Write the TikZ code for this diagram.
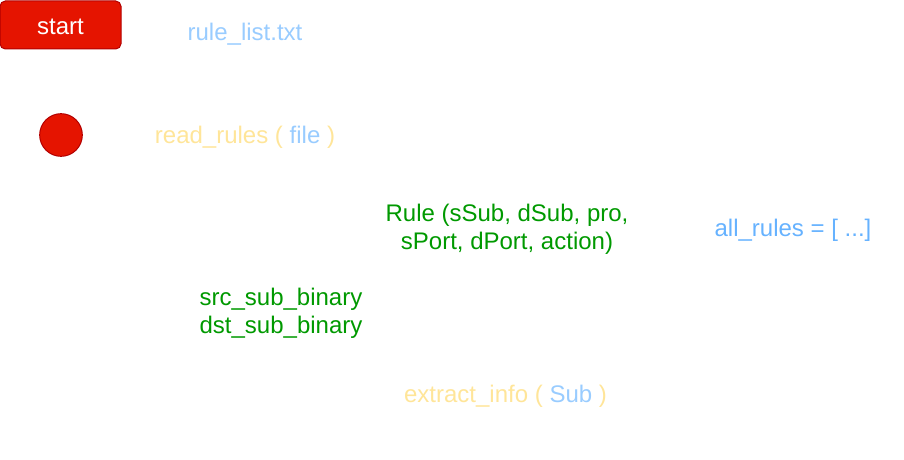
\documentclass[tikz,border=0pt]{standalone}
\usepackage{fontspec}
\setmainfont{Liberation Sans}
\usetikzlibrary{positioning}
\usepackage{xcolor}
\definecolor{startred}{HTML}{E51400}
\definecolor{startline}{HTML}{B20000}
\definecolor{argblue}{HTML}{99CCFF}
\definecolor{listblue}{HTML}{66B2FF}
\definecolor{funcyellow}{HTML}{FFE599}
\definecolor{rulegreen}{HTML}{009900}

\begin{document}
\begin{tikzpicture}[
    x=0.75pt, y=-0.75pt,
    startbox/.style={draw=startline, fill=startred, rounded corners=4pt, line width=0.75pt, minimum width=90.75pt, minimum height=36pt, text=white, font=\fontsize{18}{21}\selectfont},
    dot/.style={circle, draw=startline, fill=startred, line width=0.75pt, minimum size=32pt, inner sep=0pt},
    txt/.style={inner sep=0pt, font=\fontsize{18}{21}\selectfont, align=center},
]
\useasboundingbox (0,0) rectangle (904,460);

% Start of the flow
\node[startbox] (start) at (60.5,25) {};
\node[text=white, font=\fontsize{18}{21}\selectfont, inner sep=0pt, text depth=0pt] (startlbl) at (60.5,27) {start};
\node[dot] (read) at (61,135) {};

% Inputs and functions
\node[txt, text=argblue] (file) at (245,34) {rule\_list.txt};
\node[txt, text=funcyellow] (readfn) at (245,137) {read\_rules ( \textcolor{argblue}{file} )};

% Rule objects
\node[txt, text=rulegreen] (rule) at (507,229.5) {Rule (sSub, dSub, pro,\\sPort, dPort, action)};
\node[txt, text=listblue] (allrules) at (793,230) {all\_rules = [ ...]};

% Subnets
\node[txt, text=rulegreen, align=left] (subs) at (281,313.5) {src\_sub\_binary\\dst\_sub\_binary};
\node[txt, text=funcyellow] (extract) at (505.5,396) {extract\_info ( \textcolor{argblue}{Sub} )};

\end{tikzpicture}
\end{document}
